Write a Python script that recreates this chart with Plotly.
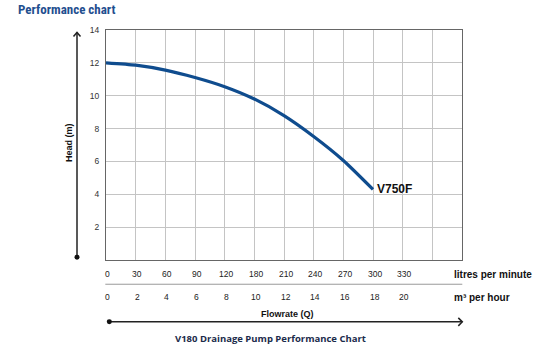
import plotly.graph_objects as go

# ---- data ----
flow_m3h = [0, 2, 4, 6, 8, 10, 12, 14, 16, 18]
head_m = [12.0, 11.86, 11.56, 11.11, 10.55, 9.8, 8.79, 7.52, 6.06, 4.3]
curve_name = "V750F"

tick_m3h = [0, 2, 4, 6, 8, 10, 12, 14, 16, 18, 20]
tick_lpm_text = ["0", "30", "60", "90", "120", "180", "210", "240", "270", "300", "330"]
tick_m3h_text = ["0", "2", "4", "6", "8", "10", "12", "14", "16", "18", "20"]
head_ticks = [2, 4, 6, 8, 10, 12, 14]

W, H = 541, 353
L, R = 105.7, 461.7
T, B = 29.5, 260.0


def px(x):
    return (x - L) / (R - L)


def py(y):
    return (B - y) / (B - T)


fig = go.Figure()
fig.add_trace(go.Scatter(
    x=flow_m3h, y=head_m, mode="lines",
    line=dict(color="#0f4c8e", width=3.2, shape="spline", smoothing=0.6),
    hoverinfo="skip", showlegend=False,
))

font_main = "Liberation Sans, Arial, sans-serif"
annotations = []
annotations.append(dict(
    x=flow_m3h[-1], y=head_m[-1], xref="x", yref="y", text="<b>" + curve_name + "</b>",
    showarrow=False, xanchor="left", yanchor="middle", xshift=2, yshift=0,
    font=dict(family=font_main, size=12, color="#111111"),
))
for xv, t1, t2 in zip(tick_m3h, tick_lpm_text, tick_m3h_text):
    annotations.append(dict(x=xv, y=py(274.5), xref="x", yref="paper", text=t1, showarrow=False,
                            xanchor="center", yanchor="middle", xshift=1.5,
                            font=dict(family=font_main, size=8.5, color="#222222")))
    annotations.append(dict(x=xv, y=py(297.5), xref="x", yref="paper", text=t2, showarrow=False,
                            xanchor="center", yanchor="middle", xshift=1.5,
                            font=dict(family=font_main, size=8.5, color="#222222")))
annotations += [
    dict(x=px(451.5), y=py(275), xref="paper", yref="paper", text="<b>litres per minute</b>",
         showarrow=False, xanchor="left", yanchor="middle",
         font=dict(family=font_main, size=10, color="#111111")),
    dict(x=px(451.5), y=py(297.5), xref="paper", yref="paper", text="<b>m³ per hour</b>",
         showarrow=False, xanchor="left", yanchor="middle",
         font=dict(family=font_main, size=10, color="#111111")),
    dict(x=px(287), y=py(314.5), xref="paper", yref="paper", text="<b>Flowrate (Q)</b>",
         showarrow=False, xanchor="center", yanchor="middle",
         font=dict(family=font_main, size=9, color="#111111")),
    dict(x=px(68.5), y=py(142), xref="paper", yref="paper", text="<b>Head (m)</b>",
         showarrow=False, xanchor="center", yanchor="middle", textangle=-90,
         font=dict(family=font_main, size=9, color="#111111")),
    dict(x=px(270), y=py(338.5), xref="paper", yref="paper", text="<b>V180 Drainage Pump Performance Chart</b>",
         showarrow=False, xanchor="center", yanchor="middle",
         font=dict(family="Open Sans, sans-serif", size=9.5, color="#1b2b4b")),
    dict(x=px(16), y=py(8.5), xref="paper", yref="paper", text="<b>Performance chart</b>",
         showarrow=False, xanchor="left", yanchor="middle",
         font=dict(family="Liberation Sans Narrow, Arial Narrow, Roboto Condensed, sans-serif", size=13, color="#1f4f8f")),
]

shapes = []
ln = dict(color="#222222", width=1.5)
# separator line between tick rows
shapes.append(dict(type="line", xref="paper", yref="paper", x0=px(105), x1=px(462), y0=py(284.3), y1=py(284.3),
                   line=dict(color="#9a9a9a", width=1)))
# vertical head arrow
shapes.append(dict(type="line", xref="paper", yref="paper", x0=px(76.7), x1=px(76.7), y0=py(257.3), y1=py(32),
                   line=ln))
shapes.append(dict(type="path", xref="paper", yref="paper",
                   path=f"M {px(73.2)} {py(36)} L {px(76.7)} {py(32)} L {px(80.2)} {py(36)}", line=ln))
shapes.append(dict(type="circle", xref="paper", yref="paper", x0=px(74.2), x1=px(79.2), y0=py(254.8), y1=py(259.8),
                   fillcolor="#111111", line=dict(color="#111111", width=0)))
# horizontal flow arrow
shapes.append(dict(type="line", xref="paper", yref="paper", x0=px(109), x1=px(462), y0=py(322), y1=py(322), line=ln))
shapes.append(dict(type="path", xref="paper", yref="paper",
                   path=f"M {px(458)} {py(318)} L {px(462)} {py(322)} L {px(458)} {py(326)}", line=ln))
shapes.append(dict(type="circle", xref="paper", yref="paper", x0=px(106.5), x1=px(111.5), y0=py(319.5), y1=py(324.5),
                   fillcolor="#111111", line=dict(color="#111111", width=0)))

fig.update_layout(
    width=W, height=H,
    margin=dict(l=L, r=W - R, t=T, b=H - B, pad=0),
    paper_bgcolor="white", plot_bgcolor="white",
    annotations=annotations, shapes=shapes,
    xaxis=dict(range=[0, 24], tickmode="array", tickvals=list(range(0, 25, 2)), showticklabels=False,
               showgrid=True, gridcolor="#c4c4c4", gridwidth=1, zeroline=False,
               showline=True, linecolor="#666666", linewidth=1.3, mirror=True, ticks="", fixedrange=True),
    yaxis=dict(range=[0, 14], tickmode="array", tickvals=head_ticks, ticktext=[str(v) for v in head_ticks],
               showgrid=True, gridcolor="#c4c4c4", gridwidth=1, zeroline=False,
               showline=True, linecolor="#666666", linewidth=1.3, mirror=True, ticks="",
               ticklabelstandoff=4,
               tickfont=dict(family=font_main, size=8.5, color="#333333"), fixedrange=True),
)

fig.write_html("out.html")
